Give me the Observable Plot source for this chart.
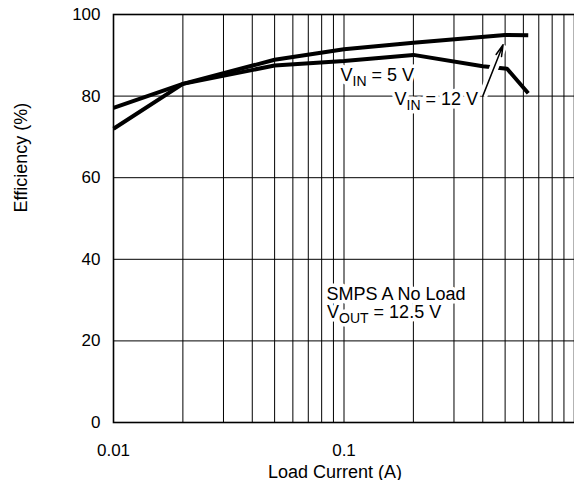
<!DOCTYPE html>
<html>
<head>
<meta charset="utf-8">
<script src="https://cdn.jsdelivr.net/npm/d3@7"></script>
<script src="https://cdn.jsdelivr.net/npm/@observablehq/plot@0.6"></script>
<style>
  html, body { margin: 0; padding: 0; background: #fff; }
  svg { display: block; }
</style>
</head>
<body>
<div id="chart"></div>
<script>
// ---- data ----
const loadCurrent12 = [0.01, 0.02, 0.05, 0.1, 0.2, 0.5, 0.63];
const efficiency12  = [72.0, 83.0, 88.9, 91.5, 93.1, 95.0, 94.9];

const loadCurrent5  = [0.01, 0.02, 0.05, 0.1, 0.2, 0.4, 0.51, 0.63];
const efficiency5   = [77.1, 83.0, 87.5, 88.6, 90.1, 87.3, 86.7, 80.7];

const xTicks = [0.01, 0.1];
const yTicks = [0, 20, 40, 60, 80, 100];
const xGrid = [0.02, 0.03, 0.04, 0.05, 0.06, 0.07, 0.08, 0.09, 0.1,
               0.2, 0.3, 0.4, 0.5, 0.6, 0.7, 0.8, 0.9];
const yGrid = [20, 40, 60, 80];

const annotationText = ["VIN = 5 V", "VIN = 12 V", "SMPS A No Load", "VOUT = 12.5 V"];
const annotationX    = [0.0966, 0.1656, 0.084, 0.0844];
const annotationY    = [83.8, 77.7, 30.1, 25.5];

const arrowFrom = [0.40, 80.0];
const arrowTo   = [0.49, 92.6];

const xLabel = "Load Current (A)";
const yLabel = "Efficiency (%)";

// ---- tables built from the arrays ----
const series12 = loadCurrent12.map((x, i) => ({x, y: efficiency12[i]}));
const series5  = loadCurrent5.map((x, i) => ({x, y: efficiency5[i]}));
const annotations = annotationText.map((t, i) => ({t, x: annotationX[i], y: annotationY[i]}));
const arrows = [{x1: arrowFrom[0], y1: arrowFrom[1], x2: arrowTo[0], y2: arrowTo[1]}];

const font = "'Liberation Sans', Arial, Helvetica, sans-serif";

const chart = Plot.plot({
  width: 574,
  height: 480,
  marginLeft: 113,
  marginRight: 0,
  marginTop: 14,
  marginBottom: 58,
  style: {fontFamily: font, fontSize: "17px", color: "black", background: "white"},
  x: {type: "log", domain: [0.01, 1]},
  y: {domain: [0, 100]},
  marks: [
    Plot.ruleX(xGrid, {stroke: "black", strokeWidth: 1}),
    Plot.ruleY(yGrid, {stroke: "black", strokeWidth: 1}),
    Plot.frame({stroke: "black", strokeWidth: 1.6}),
    Plot.axisX(xTicks, {tickSize: 0, tickPadding: 21, tickFormat: d => String(d), label: null, fontSize: 17}),
    Plot.axisY(yTicks, {tickSize: 0, tickPadding: 13, tickFormat: d => String(d), label: null, fontSize: 17}),
    Plot.line(series12, {x: "x", y: "y", stroke: "black", strokeWidth: 4, strokeLinejoin: "miter", strokeLinecap: "butt"}),
    Plot.line(series5, {x: "x", y: "y", stroke: "black", strokeWidth: 4, strokeLinejoin: "miter", strokeLinecap: "butt"}),
    Plot.link(arrows, {x1: "x1", y1: "y1", x2: "x2", y2: "y2", stroke: "white", strokeWidth: 9}),
    Plot.text(annotations, {x: "x", y: "y", text: "t", textAnchor: "start", lineAnchor: "bottom",
      fontSize: 18, fill: "black", stroke: "white", strokeWidth: 7, paintOrder: "stroke"}),
    Plot.arrow(arrows, {x1: "x1", y1: "y1", x2: "x2", y2: "y2", stroke: "black", strokeWidth: 1.5,
      headLength: 12, headAngle: 28}),
    Plot.text([xLabel], {text: d => d, frameAnchor: "bottom", lineAnchor: "bottom", dy: 55, dx: -9, fontSize: 18, fill: "black"}),
    Plot.text([yLabel], {text: d => d, frameAnchor: "left", rotate: -90, dx: -92, dy: -6, fontSize: 18, fill: "black"})
  ]
});

// subscripts for V_IN and V_OUT
d3.select(chart).selectAll("text").each(function() {
  const s = this.textContent;
  const m = /^V(IN|OUT)(.*)$/.exec(s);
  if (!m) return;
  const t = d3.select(this);
  t.text(null);
  t.append("tspan").text("V");
  t.append("tspan").attr("dy", 5).attr("font-size", 14).text(m[1]);
  t.append("tspan").attr("dy", -5).text(m[2]);
});

document.getElementById("chart").appendChild(chart);
</script>
</body>
</html>
